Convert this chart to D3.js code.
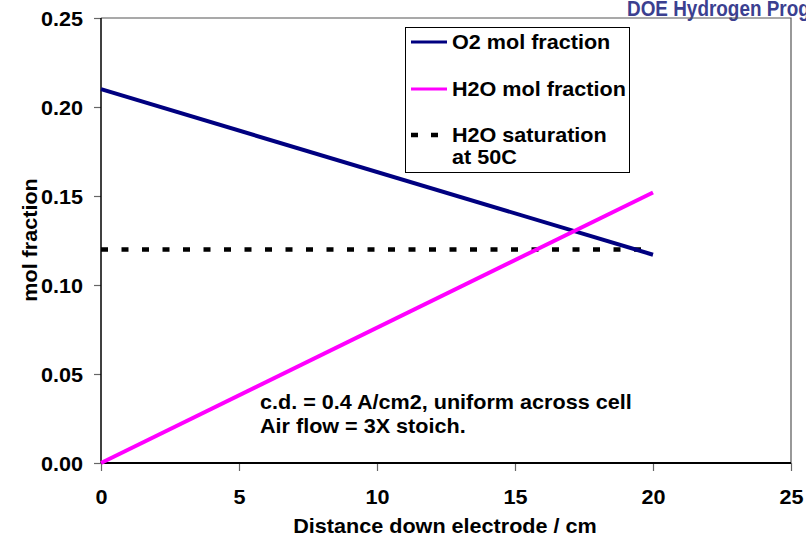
<!DOCTYPE html>
<html>
<head>
<meta charset="utf-8">
<script src="https://cdn.jsdelivr.net/npm/d3@7"></script>
<style>
  html, body { margin: 0; padding: 0; background: #fff; }
  svg { display: block; }
  text { font-family: "Liberation Sans", Arial, sans-serif; font-weight: bold; fill: #000; }
</style>
</head>
<body>
<svg id="chart" width="806" height="536"></svg>
<script>
// ---- data ----
const distance = [0, 20];                 // cm
const o2Fraction = [0.21, 0.117];
const h2oFraction = [0.0, 0.152];
const satFraction = [0.12, 0.12];
const xTicks = [0, 5, 10, 15, 20, 25];
const yTicks = [0, 0.05, 0.10, 0.15, 0.20, 0.25];
const seriesNames = ["O2 mol fraction", "H2O mol fraction", "H2O saturation", "at 50C"];
const noteLines = ["c.d. = 0.4 A/cm2, uniform across cell", "Air flow = 3X stoich."];
const xTitle = "Distance down electrode / cm";
const yTitle = "mol fraction";
const banner = "DOE Hydrogen Program";

(function () {
const svg = d3.select("#chart");
const pL = 101, pR = 791, pT = 18, pB = 463;
const x = d3.scaleLinear().domain([0, 25]).range([pL, pR]);
const y = d3.scaleLinear().domain([0, 0.25]).range([pB, pT]);
const FS = 20, SX = 1.08;

// banner (clipped at right edge, as in the reference)
svg.append("text")
  .attr("transform", "translate(627,16) scale(0.86,1)")
  .style("font-size", "22px")
  .style("fill", "#3b4090")
  .text(banner);

// plot frame (top & right border)
svg.append("path")
  .attr("d", `M${pL},${pT}H${pR}V${pB}`)
  .attr("fill", "none").attr("stroke", "#555").attr("stroke-width", 1.2);

// axes
const yAxis = svg.append("g").attr("transform", `translate(${pL},0)`)
  .call(d3.axisLeft(y).tickValues(yTicks).tickSize(7).tickFormat(d3.format(".2f")));
const xAxis = svg.append("g").attr("transform", `translate(0,${pB})`)
  .call(d3.axisBottom(x).tickValues(xTicks).tickSize(8).tickFormat(d3.format("d")));

[yAxis, xAxis].forEach(g => {
  g.select(".domain").remove();
  g.selectAll(".tick line").attr("stroke", "#666").attr("stroke-width", 1.2);
  g.selectAll("text").style("font-size", FS + "px")
    .style("font-family", "'Liberation Sans', Arial, sans-serif").style("font-weight", "bold");
});
yAxis.selectAll("text").attr("x", -18 / SX).attr("dy", "0.36em").attr("transform", `scale(${SX},1)`);
xAxis.selectAll("text").attr("y", 41).attr("dy", "0").attr("transform", `scale(${SX},1)`);

// axis lines
svg.append("line").attr("x1", pL).attr("x2", pL).attr("y1", pT).attr("y2", pB)
  .attr("stroke", "#000").attr("stroke-width", 1.5);
svg.append("line").attr("x1", pL).attr("x2", pR).attr("y1", pB).attr("y2", pB)
  .attr("stroke", "#000").attr("stroke-width", 2);

// series
const line = d3.line().x(d => x(d[0])).y(d => y(d[1]));
const pts = arr => distance.map((d, i) => [d, arr[i]]);
svg.append("path").datum(pts(satFraction)).attr("d", line)
  .attr("fill", "none").attr("stroke", "#000").attr("stroke-width", 4.5)
  .attr("stroke-dasharray", "7,13.5");
svg.append("path").datum(pts(o2Fraction)).attr("d", line)
  .attr("fill", "none").attr("stroke", "#000080").attr("stroke-width", 4);
svg.append("path").datum(pts(h2oFraction)).attr("d", line)
  .attr("fill", "none").attr("stroke", "#ff00ff").attr("stroke-width", 4);

// axis titles
svg.append("text").attr("transform", `translate(445,533) scale(${SX},1)`)
  .attr("text-anchor", "middle").style("font-size", FS + "px").text(xTitle);
svg.append("text").attr("transform", `translate(37,240) rotate(-90) scale(${SX},1)`)
  .attr("text-anchor", "middle").style("font-size", FS + "px").text(yTitle);

// legend
const lg = svg.append("g");
lg.append("rect").attr("x", 405.5).attr("y", 27.5).attr("width", 224).attr("height", 145)
  .attr("fill", "#fff").attr("stroke", "#000").attr("stroke-width", 1);
const legendRows = [
  { y: 42, color: "#000080", dash: null, label: [seriesNames[0]] },
  { y: 89, color: "#ff00ff", dash: null, label: [seriesNames[1]] },
  { y: 135, color: "#000", dash: "7,13", label: [seriesNames[2], seriesNames[3]] }
];
legendRows.forEach(r => {
  lg.append("line").attr("x1", 411).attr("x2", 447).attr("y1", r.y).attr("y2", r.y)
    .attr("stroke", r.color).attr("stroke-width", r.dash ? 4.5 : 3)
    .attr("stroke-dasharray", r.dash);
  r.label.forEach((t, i) => {
    lg.append("text").attr("transform", `translate(452,${r.y + 7 + i * 22}) scale(${SX},1)`)
      .style("font-size", FS + "px").text(t);
  });
});

// annotation
noteLines.forEach((t, i) => {
  svg.append("text").attr("transform", `translate(260,${409 + i * 24}) scale(${SX},1)`)
    .style("font-size", FS + "px").text(t);
});
})();
</script>
</body>
</html>
